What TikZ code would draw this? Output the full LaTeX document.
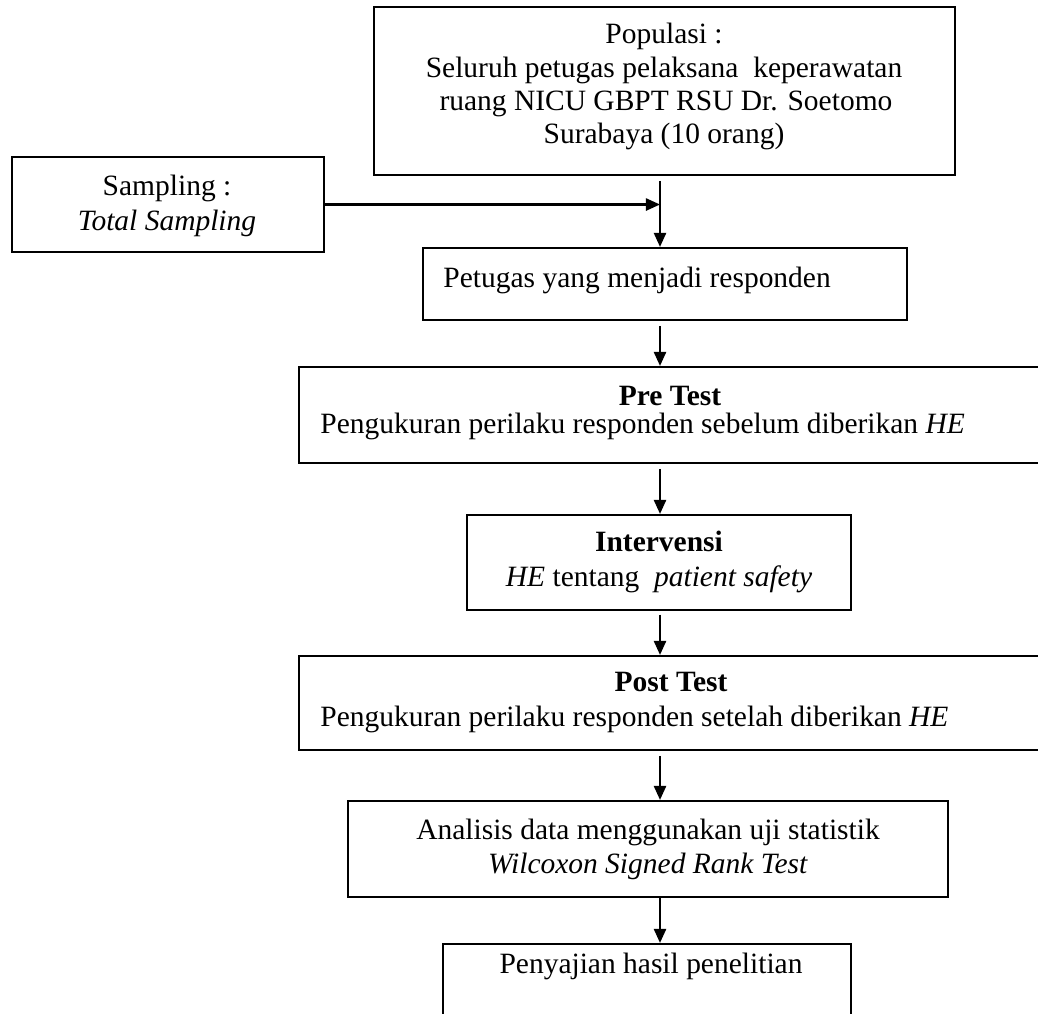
\documentclass[tikz,border=0pt]{standalone}
\usepackage{fontspec}
\setmainfont{Liberation Serif}
\usetikzlibrary{arrows.meta,fit}
\begin{document}
\begin{tikzpicture}[x=0.4138pt,y=-0.4138pt,
  box/.style={draw,line width=0.9pt,inner sep=0pt},
  txt/.style={anchor=base,inner sep=0pt,font=\fontsize{12.2}{14}\selectfont},
  ltxt/.style={txt,anchor=base west},
  arr/.style={line width=0.9pt,-{Triangle[length=5.8pt,width=5pt]}}]
\useasboundingbox (0,0) rectangle (1038,1013);
% boxes
\node[box,fit={(374,7) (955,175)}] (pop) {};
\node[box,fit={(12,157) (324,252)}] (samp) {};
\node[box,fit={(423,248) (907,320)}] (pet) {};
\node[box,fit={(299,367) (1046,463)}] (pre) {};
\node[box,fit={(467,515) (851,610)}] (int) {};
\node[box,fit={(299,656) (1046,750)}] (post) {};
\node[box,fit={(348,801) (948,897)}] (ana) {};
\node[box,fit={(443,944) (851,1040)}] (pen) {};
% texts
\node[txt] (pop1) at (664,43) {Populasi :};
\node[txt] (pop2) at (664,77) {Seluruh petugas pelaksana\ \ keperawatan};
\node[txt] (pop3) at (666,110) {ruang NICU GBPT RSU Dr. Soetomo};
\node[txt] (pop4) at (664,143) {Surabaya (10 orang)};
\node[txt] (samp1) at (167,195) {Sampling :};
\node[txt] (samp2) at (167,230) {\textit{Total Sampling}};
\node[ltxt] (pet1) at (443,287) {Petugas yang menjadi responden};
\node[txt] (pre1) at (670,405) {\textbf{Pre Test}};
\node[ltxt] (pre2) at (320,433) {Pengukuran perilaku responden sebelum diberikan \textit{HE}};
\node[txt] (int1) at (659,551) {\textbf{Intervensi}};
\node[txt] (int2) at (659,586) {\textit{HE} tentang\ \ \textit{patient safety}};
\node[txt] (post1) at (671,691) {\textbf{Post Test}};
\node[ltxt] (post2) at (320,726) {Pengukuran perilaku responden setelah diberikan \textit{HE}};
\node[txt] (ana1) at (648,839) {Analisis data menggunakan uji statistik};
\node[txt] (ana2) at (648,873) {\textit{Wilcoxon Signed Rank Test}};
\node[txt] (pen1) at (651,973) {Penyajian hasil penelitian};
% connectors
\coordinate (sp) at (660,0);
\draw[arr] ([yshift=-2pt]pop.south -| sp) -- (pet.north -| sp);
\draw[arr] (samp.east) -- (samp.east -| sp);
\draw[arr] ([yshift=-2pt]pet.south -| sp) -- (pre.north -| sp);
\draw[arr] ([yshift=-2pt]pre.south -| sp) -- (int.north -| sp);
\draw[arr] ([yshift=-1.5pt]int.south -| sp) -- (post.north -| sp);
\draw[arr] ([yshift=-2pt]post.south -| sp) -- (ana.north -| sp);
\draw[arr] (ana.south -| sp) -- (pen.north -| sp);
\end{tikzpicture}
\end{document}
